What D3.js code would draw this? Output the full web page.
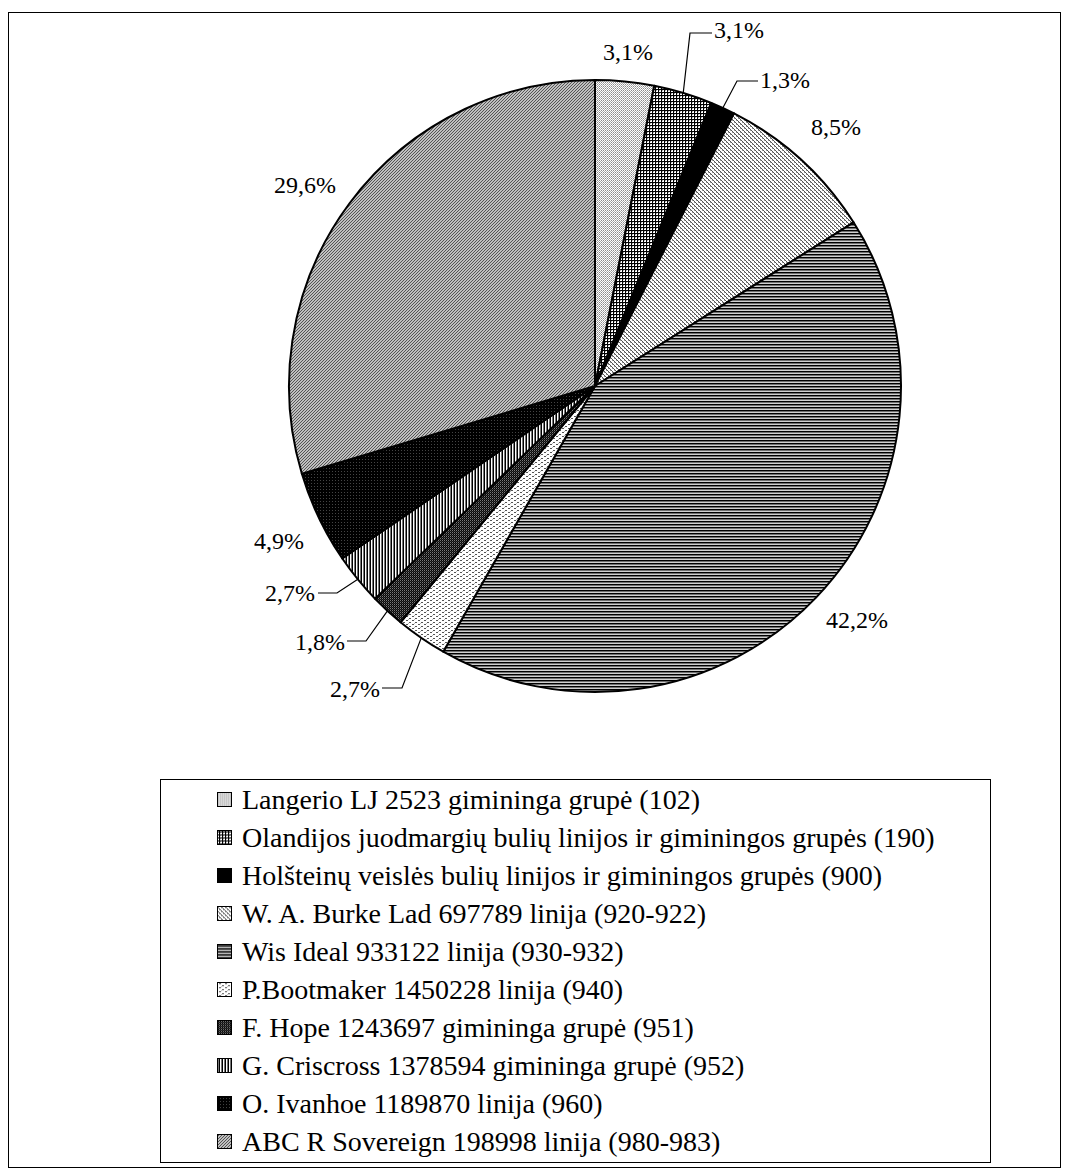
<!DOCTYPE html>
<html>
<head>
<meta charset="utf-8">
<script src="https://cdn.jsdelivr.net/npm/d3@7"></script>
<style>
  html, body { margin: 0; padding: 0; background: #fff; }
  svg { display: block; }
</style>
</head>
<body>
<script>
// Bull lines and related groups, share of cows (%)
const categories = [
  "Langerio LJ 2523 gimininga grupė (102)",
  "Olandijos juodmargių bulių linijos ir giminingos grupės (190)",
  "Holšteinų veislės bulių linijos ir giminingos grupės (900)",
  "W. A. Burke Lad 697789 linija (920-922)",
  "Wis Ideal 933122 linija (930-932)",
  "P.Bootmaker 1450228 linija (940)",
  "F. Hope 1243697 gimininga grupė (951)",
  "G. Criscross 1378594 gimininga grupė (952)",
  "O. Ivanhoe 1189870 linija (960)",
  "ABC R Sovereign 198998 linija (980-983)"
];
const shares = [3.1, 3.1, 1.3, 8.5, 42.2, 2.7, 1.8, 2.7, 4.9, 29.6];
const shareLabels = ["3,1%", "3,1%", "1,3%", "8,5%", "42,2%", "2,7%", "1,8%", "2,7%", "4,9%", "29,6%"];

// Label placement: text anchor point, alignment, optional leader (horizontal stub then to slice edge)
const labelLayout = [
  { x: 628, y: 60,  anchor: "middle" },
  { x: 714, y: 38,  anchor: "start", lead: { x0: 712, y: 33, x1: 690 } },
  { x: 760, y: 88,  anchor: "start", lead: { x0: 758, y: 81, x1: 737 } },
  { x: 836, y: 135, anchor: "middle" },
  { x: 857, y: 628, anchor: "middle" },
  { x: 380, y: 697, anchor: "end", lead: { x0: 382, y: 688, x1: 402 } },
  { x: 345, y: 650, anchor: "end", lead: { x0: 347, y: 641, x1: 366 } },
  { x: 315, y: 601, anchor: "end", lead: { x0: 318, y: 593, x1: 337 } },
  { x: 279, y: 549, anchor: "middle" },
  { x: 305, y: 193, anchor: "middle" }
];

const FONT = "'Liberation Serif', Tinos, 'Times New Roman', Times, 'DejaVu Serif', serif";
const W = 1068, H = 1169;
const cx = 595, cy = 386, R = 306;

const svg = d3.select("body").append("svg")
  .attr("width", W).attr("height", H)
  .attr("shape-rendering", "crispEdges");

const defs = svg.append("defs");

// Monochrome fill patterns, one per slice
function pat(id, w, h, bg, draw) {
  const p = defs.append("pattern").attr("id", id)
    .attr("patternUnits", "userSpaceOnUse").attr("width", w).attr("height", h);
  p.append("rect").attr("width", w).attr("height", h).attr("fill", bg);
  draw(p);
}
const px = (p, x, y, c, w = 1, h = 1) =>
  p.append("rect").attr("x", x).attr("y", y).attr("width", w).attr("height", h).attr("fill", c);

pat("p0", 2, 2, "#fff", p => { px(p, 0, 0, "#8c8c8c"); px(p, 1, 1, "#b0b0b0"); });
pat("p1", 3, 3, "#fff", p => { px(p, 0, 0, "#000", 3, 1); px(p, 0, 0, "#000", 1, 3); px(p, 1, 1, "#aaa"); });
pat("p2", 4, 4, "#000", p => {});
pat("p3", 4, 4, "#fff", p => {
  px(p, 0, 0, "#555"); px(p, 1, 1, "#555"); px(p, 2, 2, "#555"); px(p, 3, 3, "#555");
  px(p, 3, 0, "#999"); px(p, 1, 2, "#999");
});
pat("p4", 4, 3, "#fff", p => { px(p, 0, 0, "#000", 4, 1); px(p, 0, 1, "#707070", 4, 1); px(p, 0, 2, "#d0d0d0", 4, 1); });
pat("p5", 6, 4, "#fff", p => { px(p, 0, 0, "#555", 2, 1); px(p, 3, 2, "#555", 2, 1); px(p, 5, 1, "#bbb"); });
pat("p6", 2, 2, "#333", p => { px(p, 0, 0, "#000"); px(p, 1, 1, "#111"); px(p, 1, 0, "#7a7a7a"); });
pat("p7", 3, 3, "#fff", p => { px(p, 0, 0, "#000", 1, 3); px(p, 2, 0, "#777", 1, 3); });
pat("p8", 3, 3, "#000", p => { px(p, 1, 1, "#444"); });
pat("p9", 3, 3, "#c0c0c0", p => { px(p, 0, 2, "#555"); px(p, 1, 1, "#555"); px(p, 2, 0, "#555"); });

// Outer frame
svg.append("rect")
  .attr("x", 8.5).attr("y", 12.5).attr("width", 1052).attr("height", 1155)
  .attr("fill", "none").attr("stroke", "#000").attr("stroke-width", 1);

// Pie
const pie = d3.pie().sort(null).value(d => d);
const arcs = pie(shares);
const arc = d3.arc().innerRadius(0).outerRadius(R);

const g = svg.append("g").attr("transform", `translate(${cx},${cy})`);
g.selectAll("path.slice").data(arcs).enter().append("path")
  .attr("class", "slice")
  .attr("d", arc)
  .attr("fill", (d, i) => `url(#p${i})`)
  .attr("stroke", "#000")
  .attr("stroke-width", 2)
  .attr("stroke-linejoin", "round")
  .attr("shape-rendering", "geometricPrecision");

// Leader lines
const edgePoint = d => {
  const a = (d.startAngle + d.endAngle) / 2;
  return [cx + R * Math.sin(a), cy - R * Math.cos(a)];
};
arcs.forEach((d, i) => {
  const L = labelLayout[i];
  if (!L.lead) return;
  const [ex, ey] = edgePoint(d);
  svg.append("polyline")
    .attr("points", [[L.lead.x0, L.lead.y], [L.lead.x1, L.lead.y], [ex, ey]].map(p => p.join(",")).join(" "))
    .attr("fill", "none").attr("stroke", "#000").attr("stroke-width", 1.2)
    .attr("shape-rendering", "geometricPrecision");
});

// Percentage labels
svg.selectAll("text.pct").data(arcs).enter().append("text")
  .attr("class", "pct")
  .attr("x", (d, i) => labelLayout[i].x)
  .attr("y", (d, i) => labelLayout[i].y)
  .attr("text-anchor", (d, i) => labelLayout[i].anchor)
  .attr("font-family", FONT)
  .attr("font-size", 24)
  .text((d, i) => shareLabels[i]);

// Legend
const legend = svg.append("g");
legend.append("rect")
  .attr("x", 160.5).attr("y", 779.5).attr("width", 830).attr("height", 383)
  .attr("fill", "#fff").attr("stroke", "#000").attr("stroke-width", 1.5);

const rowY = d3.scalePoint().domain(d3.range(categories.length)).range([799.5, 1141]);
const items = legend.selectAll("g.item").data(categories).enter().append("g")
  .attr("class", "item")
  .attr("transform", (d, i) => `translate(0,${rowY(i)})`);
items.append("rect")
  .attr("x", 217.5).attr("y", -7).attr("width", 14).attr("height", 14)
  .attr("fill", (d, i) => `url(#p${i})`)
  .attr("stroke", "#000").attr("stroke-width", 1);
items.append("text")
  .attr("x", 242).attr("y", 9.5)
  .attr("font-family", FONT)
  .attr("font-size", 28)
  .text(d => d);
</script>
</body>
</html>
